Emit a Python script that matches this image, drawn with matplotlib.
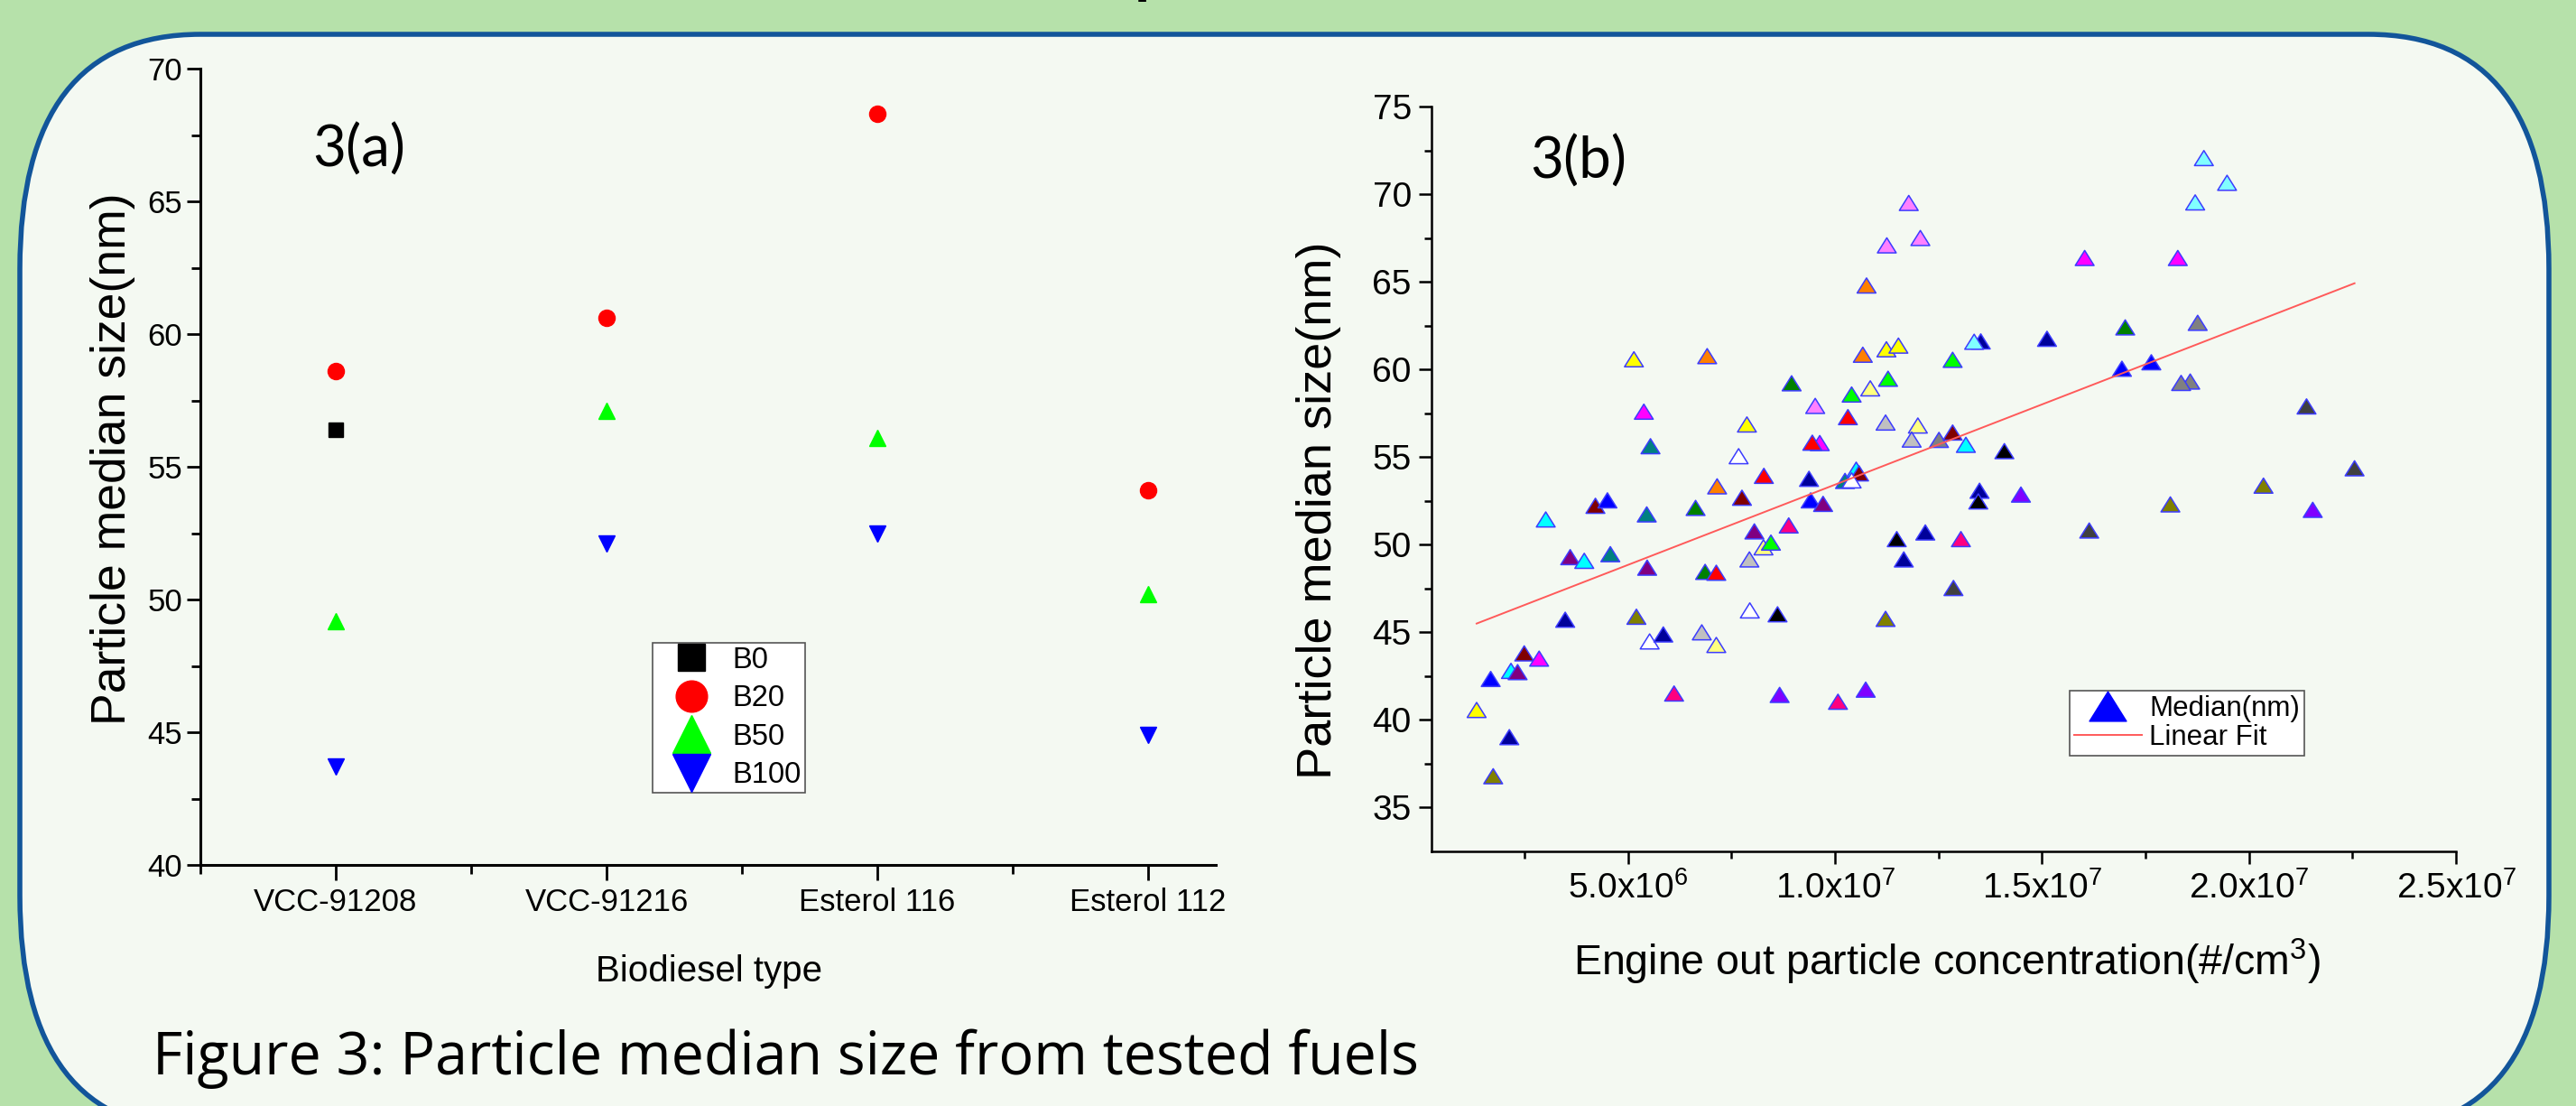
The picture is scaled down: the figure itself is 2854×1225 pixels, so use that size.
import numpy as np
import matplotlib
matplotlib.use("Agg")
import matplotlib.pyplot as plt
import matplotlib.transforms as mtransforms
from matplotlib.patches import FancyBboxPatch
from matplotlib.path import Path
from matplotlib.lines import Line2D

W, H = 2854, 1225

# Panel 3(a): median size per biodiesel type and blend
fuels = ['VCC-91208', 'VCC-91216', 'Esterol 116', 'Esterol 112']
blend_names = ['B0', 'B20', 'B50', 'B100']
b0 = [56.4, np.nan, np.nan, np.nan]
b20 = [58.6, 60.6, 68.3, 54.1]
b50 = [49.2, 57.1, 56.1, 50.2]
b100 = [43.7, 52.1, 52.5, 44.9]

# Panel 3(b): engine out concentration (x 10^6 #/cm3) vs median size (nm)
conc_e6 = [11.78, 12.06, 11.25, 10.76, 5.14, 6.91, 10.67, 11.24, 11.53, 13.52,
           13.36, 12.84, 8.95, 11.28, 10.85, 10.40, 9.52, 5.38, 7.87, 10.31,
           11.22, 12.00, 11.85, 12.51, 12.84, 13.16, 5.54, 7.67, 9.63, 9.45,
           8.28, 7.15, 9.37, 10.24, 10.51, 10.58, 10.40, 7.75, 6.63, 9.41,
           9.71, 13.49, 13.46, 8.05, 8.88, 8.27, 8.45, 7.93, 11.49, 12.18,
           13.04, 11.66, 6.86, 7.13, 4.21, 4.50, 3.01, 5.45, 3.60, 3.94,
           4.57, 5.46, 3.48, 5.20, 5.52, 5.85, 6.78, 7.13, 7.94, 8.61,
           11.22, 12.86, 2.49, 2.85, 2.17, 2.33, 1.68, 1.34, 2.13, 1.74,
           6.11, 8.66, 10.07, 10.74, 18.91, 19.47, 18.70, 16.03, 18.28, 17.01,
           18.76, 15.12, 16.93, 17.64, 18.58, 18.36, 21.39, 14.09, 22.55, 20.35,
           14.49, 16.14, 18.10, 21.54]
median_nm = [69.50, 67.50, 67.08, 64.79, 60.58, 60.76, 60.84, 61.15, 61.36, 61.60,
             61.58, 60.55, 59.21, 59.47, 58.92, 58.57, 57.92, 57.59, 56.86, 57.28,
             56.97, 56.80, 56.00, 55.98, 56.40, 55.70, 55.62, 55.05, 55.80, 55.82,
             53.93, 53.33, 53.76, 53.64, 54.28, 54.07, 53.67, 52.68, 52.10, 52.53,
             52.33, 53.08, 52.47, 50.76, 51.10, 49.85, 50.12, 49.16, 50.32, 50.70,
             50.32, 49.16, 48.45, 48.40, 52.22, 52.53, 51.44, 51.73, 49.29, 49.08,
             49.46, 48.69, 45.72, 45.89, 44.48, 44.88, 45.00, 44.28, 46.25, 46.03,
             45.77, 47.53, 43.80, 43.50, 42.80, 42.73, 42.34, 40.57, 39.02, 36.79,
             41.51, 41.43, 41.04, 41.73, 72.06, 70.65, 69.53, 66.36, 66.36, 62.40,
             62.66, 61.75, 60.04, 60.41, 59.31, 59.23, 57.89, 55.34, 54.36, 53.37,
             52.86, 50.81, 52.30, 51.99]
point_colors = ['#ff80ff', '#ff80ff', '#ff80ff', '#ff8000', '#ffff00', '#ff8000', '#ff8000', '#ffff00', '#ffff00', '#00009a',
                '#80ffff', '#00ff00', '#008000', '#00ff00', '#ffff80', '#00ff00', '#ff80ff', '#ff00ff', '#ffff00', '#ff0000',
                '#c0c0c0', '#ffff80', '#c0c0c0', '#808080', '#800000', '#00ffff', '#008080', '#ffffff', '#ff00ff', '#ff0000',
                '#ff0000', '#ff8000', '#00009a', '#008080', '#00ffff', '#800000', '#ffffff', '#800000', '#008000', '#0000ff',
                '#800080', '#00009a', '#000000', '#800080', '#ff0080', '#ffff80', '#00ff00', '#c0c0c0', '#000000', '#00009a',
                '#ff0080', '#00009a', '#008000', '#ff0000', '#800000', '#0000ff', '#00ffff', '#008080', '#800080', '#00ffff',
                '#008080', '#800080', '#00009a', '#808000', '#ffffff', '#00009a', '#c0c0c0', '#ffff80', '#ffffff', '#000000',
                '#808000', '#404040', '#800000', '#ff00ff', '#00ffff', '#800080', '#0000ff', '#ffff00', '#00009a', '#808000',
                '#ff0080', '#8000ff', '#ff0080', '#8000ff', '#80ffff', '#80ffff', '#80ffff', '#ff00ff', '#ff00ff', '#008000',
                '#808080', '#00009a', '#0000ff', '#0000ff', '#808080', '#808080', '#404040', '#000000', '#404040', '#808000',
                '#8000ff', '#404040', '#808000', '#8000ff']
x_ticks_b = [5e6, 1e7, 1.5e7, 2e7, 2.5e7]
x_ticklabels_b = ['5.0x10$^{6}$', '1.0x10$^{7}$', '1.5x10$^{7}$', '2.0x10$^{7}$', '2.5x10$^{7}$']

# Fonts
plt.rcParams['font.family'] = 'Liberation Sans'
plt.rcParams['mathtext.fontset'] = 'custom'
plt.rcParams['mathtext.rm'] = 'Liberation Sans'
plt.rcParams['mathtext.it'] = 'Liberation Sans:italic'
plt.rcParams['mathtext.bf'] = 'Liberation Sans:bold'

fig = plt.figure(figsize=(W / 100, H / 100), dpi=100)
fig.patch.set_facecolor('#b6e1aa')

# pixel coordinates, origin top-left
pix = mtransforms.Affine2D().scale(1 / W, -1 / H).translate(0, 1) + fig.transFigure

# Poster panel behind the charts
bg = fig.add_axes([0, 0, 1, 1], zorder=-10)
bg.set_xlim(0, W)
bg.set_ylim(H, 0)
bg.axis('off')
bg.add_patch(FancyBboxPatch((22, 38), 2824 - 22, 1252 - 38,
                            boxstyle='round,pad=0,rounding_size=200', mutation_aspect=1.3,
                            fc='#f4f9f2', ec='#12559a', lw=4))

#################
# Panel 3(a)    #
#################
ax1 = fig.add_axes([222 / W, 1 - 958 / H, (1347 - 222) / W, (958 - 76) / H])
ax1.patch.set_visible(False)
xs = np.arange(1, len(fuels) + 1)
ax1.plot(xs, b0, ls='none', marker='s', ms=11, color='black')
ax1.plot(xs, b20, ls='none', marker='o', ms=13, color='#ff0000')
ax1.plot(xs, b50, ls='none', marker='^', ms=13, color='#00ff00')
ax1.plot(xs, b100, ls='none', marker='v', ms=13, color='#0000ff')

ax1.set_xlim(0.5, 4.25)
ax1.set_ylim(40, 70)
ax1.set_xticks(xs)
ax1.set_xticklabels(fuels)
ax1.set_xticks([0.5, 1.5, 2.5, 3.5], minor=True)
ax1.set_yticks(np.arange(40, 71, 5))
ax1.set_yticks(np.arange(42.5, 70, 5), minor=True)
for side in ['top', 'right']:
    ax1.spines[side].set_visible(False)
for side in ['left', 'bottom']:
    ax1.spines[side].set_linewidth(2.2)
ax1.tick_params(axis='x', which='major', length=12, width=2, pad=6, labelsize=25)
ax1.tick_params(axis='y', which='major', length=11, width=2, pad=3.5, labelsize=25)
ax1.tick_params(which='minor', length=7, width=2)

ax1.set_ylabel('Particle median size(nm)', fontsize=38.5)
ax1.yaxis.set_label_coords(125, 508, transform=pix)
ax1.yaxis.label.set_va('center')
ax1.set_xlabel('Biodiesel type', fontsize=29)
ax1.xaxis.set_label_coords(786, 1087, transform=pix)
ax1.xaxis.label.set_va('baseline')

handles_a = [Line2D([], [], ls='none', marker='s', ms=21, color='black'),
             Line2D([], [], ls='none', marker='o', ms=25, color='#ff0000'),
             Line2D([], [], ls='none', marker='^', ms=30, color='#00ff00'),
             Line2D([], [], ls='none', marker='v', ms=30, color='#0000ff')]
leg_a = ax1.legend(handles_a, blend_names, loc='upper left',
                   bbox_to_anchor=(723 / W, 1 - 712 / H), bbox_transform=fig.transFigure,
                   borderaxespad=0, fontsize=23.5,
                   fancybox=False, edgecolor='#555555', framealpha=1,
                   borderpad=0.12, handlelength=2.4, handletextpad=0.19, labelspacing=0.35)
leg_a.get_frame().set_linewidth(1.2)

#################
# Panel 3(b)    #
#################
ax2 = fig.add_axes([1586 / W, 1 - 943 / H, (2721 - 1586) / W, (943 - 118) / H])
ax2.patch.set_visible(False)
tri = Path([(0, 0.8), (-1, -0.8), (1, -0.8), (0, 0.8)], closed=True)

x = np.array(conc_e6) * 1e6
y = np.array(median_nm)
ax2.scatter(x, y, s=15 ** 2, marker=tri, c=point_colors, edgecolors='#3c3cff', linewidths=1.1, zorder=2)

coef = np.polyfit(x, y, 1)
x_fit = np.array([x.min(), x.max()])
ax2.plot(x_fit, np.polyval(coef, x_fit), color='#ff5a5a', lw=1.4, zorder=3)

ax2.set_xlim(0.25e6, 2.5e7)
ax2.set_ylim(32.5, 75)
ax2.set_xticks(x_ticks_b)
ax2.set_xticklabels(x_ticklabels_b)
ax2.set_xticks(np.arange(2.5e6, 2.5e7, 5e6), minor=True)
ax2.set_yticks(np.arange(35, 76, 5))
ax2.set_yticks(np.arange(37.5, 75, 5), minor=True)
for side in ['top', 'right']:
    ax2.spines[side].set_visible(False)
for side in ['left', 'bottom']:
    ax2.spines[side].set_linewidth(1.8)
ax2.tick_params(which='major', length=10, width=1.8, pad=6, labelsize=28)
ax2.tick_params(which='minor', length=6, width=1.8)

ax2.set_ylabel('Particle median size(nm)', fontsize=39)
ax2.yaxis.set_label_coords(1461, 565, transform=pix)
ax2.yaxis.label.set_va('center')
ax2.set_xlabel('Engine out particle concentration(#/cm$^3$)', fontsize=33.5)
ax2.xaxis.set_label_coords(2157, 1080, transform=pix)
ax2.xaxis.label.set_va('baseline')

handles_b = [Line2D([], [], ls='none', marker=tri, ms=29.5, mfc='#0000ff', mec='#0000ff'),
             Line2D([], [], color='#ff5a5a', lw=1.4)]
leg_b = ax2.legend(handles_b, ['Median(nm)', 'Linear Fit'], loc='upper left',
                   bbox_to_anchor=(2293 / W, 1 - 765 / H), bbox_transform=fig.transFigure,
                   borderaxespad=0, fontsize=22.5, fancybox=False, edgecolor='#555555',
                   framealpha=1, borderpad=0.15, handlelength=2.4, handletextpad=0.28,
                   labelspacing=0.07)
leg_b.get_frame().set_linewidth(1.2)

# Panel tags, caption and the clipped heading above
fig.text(346 / W, 1 - 185 / H, '3(a)', family='Lato', fontsize=46, va='baseline')
fig.text(1695 / W, 1 - 198 / H, '3(b)', family='Lato', fontsize=46, va='baseline')
fig.text(169 / W, 1 - 1190 / H, 'Figure 3: Particle median size from tested fuels',
         family='Open Sans', fontsize=46.5, va='baseline')
fig.text(1257 / W, 1 + 10 / H, 'p', family='Lato', fontweight='bold', fontsize=50, va='baseline')

fig.savefig('out.png', dpi=100, facecolor=fig.get_facecolor())
